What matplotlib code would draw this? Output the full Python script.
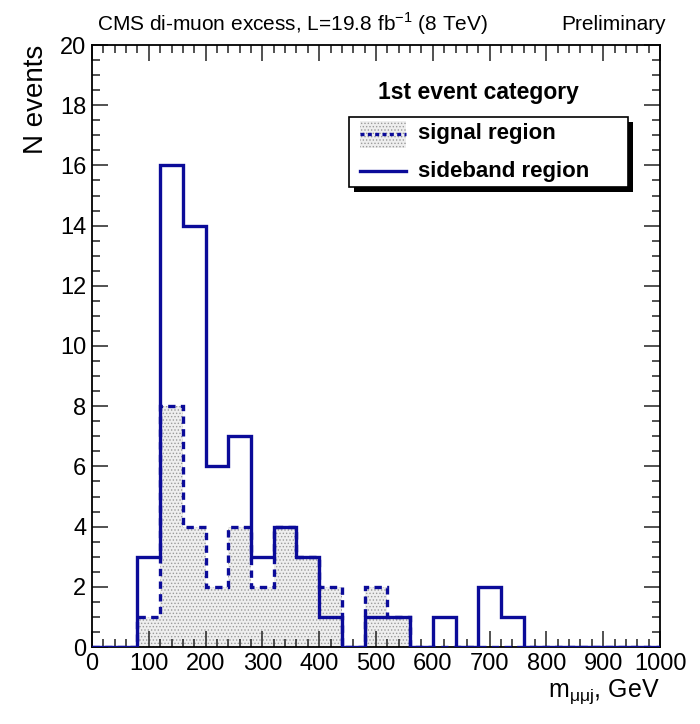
import matplotlib
matplotlib.use("Agg")
import matplotlib.pyplot as plt
from matplotlib.patches import Rectangle
from matplotlib.lines import Line2D
from matplotlib.ticker import MultipleLocator
import numpy as np

bin_edges = list(range(0, 1001, 40))
sideband_counts = [0, 0, 3, 16, 14, 6, 7, 3, 4, 3, 1, 0, 1, 1, 0, 1, 0, 2, 1, 0, 0, 0, 0, 0, 0]
signal_counts = [0, 0, 1, 8, 4, 2, 4, 2, 4, 3, 2, 0, 2, 1, 0, 0, 0, 0, 0, 0, 0, 0, 0, 0, 0]
x_ticks = [0, 100, 200, 300, 400, 500, 600, 700, 800, 900, 1000]
y_ticks = [0, 2, 4, 6, 8, 10, 12, 14, 16, 18, 20]

plt.rcParams['font.family'] = ['Liberation Sans', 'DejaVu Sans']
plt.rcParams['mathtext.fontset'] = 'custom'
plt.rcParams['mathtext.rm'] = 'Liberation Sans'
plt.rcParams['hatch.linewidth'] = 0.6

BLUE = '#0b0b99'
FILL = '#eeeeee'
HATCHC = '#9a9a9a'

W, H = 700, 724
L, R, T, B = 92, 660, 45, 647
fig = plt.figure(figsize=(W/100, H/100), dpi=100)
ax = fig.add_axes([L/W, 1 - B/H, (R-L)/W, (B-T)/H])

edges = np.array(bin_edges)
sig = np.array(signal_counts)
sb = np.array(sideband_counts)

ax.stairs(sig, edges, fill=True, facecolor=FILL, edgecolor=HATCHC,
          hatch='.....', linewidth=0, zorder=1)
ax.stairs(sb, edges, color=BLUE, linewidth=2.4, zorder=3)
ax.stairs(sig, edges, color=BLUE, linewidth=2.4, linestyle=(0, (2.2, 1.6)), zorder=4)

ax.set_xlim(0, 1000)
ax.set_ylim(0, 20)
ax.set_xticks(x_ticks)
ax.set_yticks(y_ticks)
ax.set_xticklabels([str(v) for v in x_ticks])
ax.set_yticklabels([str(v) for v in y_ticks])
ax.xaxis.set_minor_locator(MultipleLocator(20))
ax.yaxis.set_minor_locator(MultipleLocator(0.5))
ax.tick_params(which='both', direction='in', top=True, right=True, width=1.1, color='#222222')
ax.tick_params(which='major', length=11.5, labelsize=17, pad=4)
ax.tick_params(which='minor', length=6)
for s in ax.spines.values():
    s.set_linewidth(1.3)

ax.set_ylabel('N events', fontsize=20, loc='top', labelpad=8)
ax.set_xlabel(r'$\mathregular{m_{μμj}}$, GeV', fontsize=18, loc='right', labelpad=2)

fig.text(97/W, 1 - 24/H, r'CMS di-muon excess, L=19.8 fb$^{\mathregular{-1}}$ (8 TeV)',
         fontsize=15, ha='left', va='center')
fig.text(666/W, 1 - 24/H, 'Preliminary', fontsize=15, ha='right', va='center')

def ax_xy(px, py):
    return (px - L) / (R - L), (B - py) / (B - T)

tx, ty = ax_xy(478, 93)
ax.text(tx, ty, '1st event category', transform=ax.transAxes, fontsize=16.5,
        fontweight='bold', ha='center', va='center')

# legend box, drawn by hand to match the ROOT layout
bx0, by0 = ax_xy(349, 187)
bx1, by1 = ax_xy(628, 117)
sx, sy = 5/(R-L), 5/(B-T)
ax.add_patch(Rectangle((bx0 + sx, by0 - sy), bx1 - bx0, by1 - by0, transform=ax.transAxes,
                       facecolor='black', edgecolor='none', zorder=5, clip_on=False))
ax.add_patch(Rectangle((bx0, by0), bx1 - bx0, by1 - by0, transform=ax.transAxes,
                       facecolor='white', edgecolor='black', linewidth=1.2, zorder=6,
                       clip_on=False))
# signal entry
hx0, hy0 = ax_xy(360, 148)
hx1, hy1 = ax_xy(406, 121)
ax.add_patch(Rectangle((hx0, hy0), hx1 - hx0, hy1 - hy0, transform=ax.transAxes,
                       facecolor=FILL, edgecolor=HATCHC, hatch='.....', linewidth=0,
                       zorder=7, clip_on=False))
_, ly1 = ax_xy(0, 134)
ax.add_line(Line2D([hx0, hx1], [ly1, ly1], transform=ax.transAxes, color=BLUE,
                   linewidth=2.4, linestyle=(0, (1.2, 1.0)), zorder=8, clip_on=False))
_, ly2 = ax_xy(0, 171)
ax.add_line(Line2D([hx0, hx1], [ly2, ly2], transform=ax.transAxes, color=BLUE,
                   linewidth=2.4, zorder=8, clip_on=False))
lx, _ = ax_xy(418, 0)
ax.text(lx, ly1, 'signal region', transform=ax.transAxes, fontsize=16,
        fontweight='bold', ha='left', va='center', zorder=9)
ax.text(lx, ly2, 'sideband region', transform=ax.transAxes, fontsize=16,
        fontweight='bold', ha='left', va='center', zorder=9)

fig.savefig('out.png', dpi=100)
